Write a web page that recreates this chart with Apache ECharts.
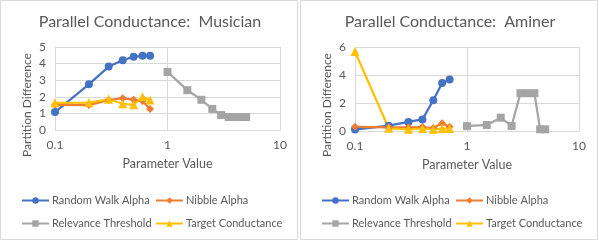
<!DOCTYPE html>
<html lang="en">
<head>
	<meta charset="UTF-8">
	<title>Parallel Conductance</title>
	<style>
		html, body { margin: 0; padding: 0; background: #fff; }
		#box { width: 599px; height: 241px; }
	</style>
</head>
<body>
	<div id="box"></div>
	<script src="https://cdn.jsdelivr.net/npm/echarts@6/dist/echarts.min.js"></script>
	<script>
		// x values
		var alphaX = [0.1, 0.2, 0.3, 0.4, 0.5, 0.6, 0.7];
		var thresholdX = [1, 1.5, 2, 2.5, 3, 3.5, 4, 4.5, 5];
		var xTicks = [0.1, 1, 10];

		// Musician
		var musicianRandomWalk = [1.08, 2.75, 3.82, 4.2, 4.42, 4.47, 4.47];
		var musicianNibble = [1.52, 1.5, 1.8, 1.92, 1.82, 1.74, 1.27];
		var musicianThreshold = [3.5, 2.4, 1.82, 1.27, 0.9, 0.78, 0.78, 0.78, 0.78];
		var musicianTarget = [1.64, 1.65, 1.85, 1.58, 1.52, 2.0, 1.8];

		// Aminer
		var aminerRandomWalk = [0.1, 0.38, 0.65, 0.83, 2.2, 3.43, 3.68];
		var aminerNibble = [0.3, 0.26, 0.26, 0.28, 0.21, 0.55, 0.31];
		var aminerThreshold = [0.35, 0.43, 0.95, 0.36, 2.7, 2.7, 2.7, 0.12, 0.12];
		var aminerTarget = [5.68, 0.19, 0.12, 0.18, 0.12, 0.17, 0.17];

		var names = ['Random Walk Alpha', 'Nibble Alpha', 'Relevance Threshold', 'Target Conductance'];
		var colors = ['#4472C4', '#ED7D31', '#A5A5A5', '#FFC000'];
		var symbols = ['circle', 'diamond', 'rect', 'triangle'];
		var symbolSizes = [8, 8, 8, 9];

		var font = 'Lato, "Open Sans", sans-serif';
		var txt = '#595959';
		var gridColor = '#d9d9d9';

		function zip(xs, ys) {
			return xs.map(function (x, i) { return [x, ys[i]]; });
		}

		function makeSeries(idx, data) {
			var list = [];
			var xs = [alphaX, alphaX, thresholdX, alphaX];
			data.forEach(function (ys, k) {
				list.push({
					name: names[k],
					type: 'line',
					xAxisIndex: idx,
					yAxisIndex: idx,
					data: zip(xs[k], ys),
					symbol: symbols[k],
					symbolSize: symbolSizes[k],
					showAllSymbol: true,
					color: colors[k],
					lineStyle: { width: 2.25, color: colors[k] },
					itemStyle: { color: colors[k] },
					animation: false
				});
			});
			return list;
		}

		function xAxis(idx) {
			return {
				gridIndex: idx,
				type: 'log',
				logBase: 10,
				min: 0.1,
				max: 10,
				name: 'Parameter Value',
				nameLocation: 'middle',
				nameGap: 27,
				nameTextStyle: { color: txt, fontFamily: font, fontSize: 12.5 },
				axisLine: { show: true, lineStyle: { color: gridColor } },
				axisTick: { show: false },
				axisLabel: {
					color: txt, fontFamily: font, fontSize: 12, margin: 9,
					formatter: function (v) { return String(+v.toFixed(1)); }
				},
				splitLine: { show: true, lineStyle: { color: gridColor } }
			};
		}

		function yAxis(idx, max, interval) {
			return {
				gridIndex: idx,
				type: 'value',
				min: 0,
				max: max,
				interval: interval,
				axisLine: { show: true, lineStyle: { color: gridColor } },
				axisTick: { show: false },
				axisLabel: { color: txt, fontFamily: font, fontSize: 12, margin: 9 },
				splitLine: { show: true, lineStyle: { color: gridColor } }
			};
		}

		function legends(offset) {
			var cells = [
				{ left: offset + 21, top: 195 },
				{ left: offset + 155, top: 195 },
				{ left: offset + 21, top: 218 },
				{ left: offset + 155, top: 218 }
			];
			return names.map(function (n, k) {
				return {
					data: [n],
					left: cells[k].left,
					top: cells[k].top,
					itemWidth: 27,
					itemHeight: 8,
					itemGap: 0,
					padding: 0,
					textStyle: { color: txt, fontFamily: font, fontSize: 11, padding: [0, 0, 0, -2] },
					selectedMode: false
				};
			});
		}

		var oBox = document.getElementById('box');
		var myChart = echarts.init(oBox);

		var option = {
			backgroundColor: '#fff',
			animation: false,
			grid: [
				{ left: 55, top: 47, width: 225, height: 83 },
				{ left: 355, top: 47, width: 224, height: 84 }
			],
			xAxis: [xAxis(0), xAxis(1)],
			yAxis: [yAxis(0, 5, 1), yAxis(1, 6, 2)],
			legend: legends(0).concat(legends(300)),
			graphic: [
				{ type: 'rect', shape: { x: 0.5, y: 0.5, width: 297, height: 239 }, style: { fill: 'none', stroke: gridColor } },
				{ type: 'rect', shape: { x: 300.5, y: 0.5, width: 297, height: 239 }, style: { fill: 'none', stroke: gridColor } },
				{ type: 'text', x: 150, y: 22, style: { text: 'Parallel Conductance:  Musician', fill: txt, font: '16px ' + font, textAlign: 'center', textVerticalAlign: 'middle' } },
				{ type: 'text', x: 450, y: 22, style: { text: 'Parallel Conductance:  Aminer', fill: txt, font: '16px ' + font, textAlign: 'center', textVerticalAlign: 'middle' } },
				{ type: 'text', x: 27, y: 105, rotation: Math.PI / 2, style: { text: 'Partition Difference', fill: txt, font: '12px ' + font, textAlign: 'center', textVerticalAlign: 'middle' } },
				{ type: 'text', x: 327, y: 105, rotation: Math.PI / 2, style: { text: 'Partition Difference', fill: txt, font: '12px ' + font, textAlign: 'center', textVerticalAlign: 'middle' } }
			],
			series: makeSeries(0, [musicianRandomWalk, musicianNibble, musicianThreshold, musicianTarget])
				.concat(makeSeries(1, [aminerRandomWalk, aminerNibble, aminerThreshold, aminerTarget]))
		};

		myChart.setOption(option);
	</script>
</body>
</html>
